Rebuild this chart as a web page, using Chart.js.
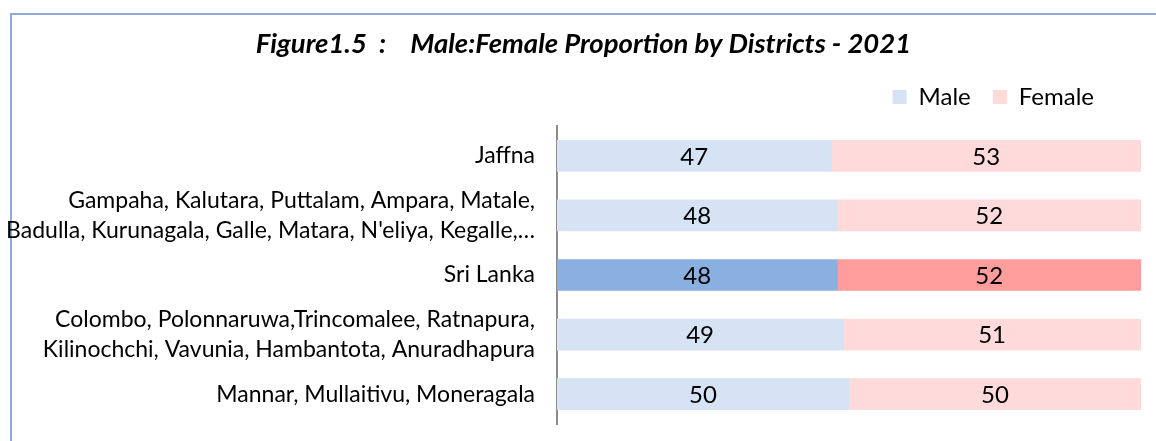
<!DOCTYPE html>
<html>
<head>
<meta charset="utf-8">
<script src="https://cdn.jsdelivr.net/npm/chart.js@4"></script>
<style>
  html, body { margin: 0; padding: 0; background: #fff; overflow: hidden; }
  #wrap { position: relative; width: 1156px; height: 441px; }
  #frame { position: absolute; left: 10px; top: 13px; width: 1200px; height: 500px;
           border-left: 2px solid #8eaadb; border-top: 2px solid #8eaadb; }
  canvas { position: absolute; left: 0; top: 0; }
</style>
</head>
<body>
<div id="wrap">
  <div id="frame"></div>
  <canvas id="chart" width="1156" height="441"></canvas>
</div>
<script>
const districts = [
  "Jaffna",
  ["Gampaha, Kalutara, Puttalam, Ampara, Matale,", "Badulla, Kurunagala, Galle, Matara, N'eliya, Kegalle,…"],
  "Sri Lanka",
  ["Colombo, Polonnaruwa,Trincomalee, Ratnapura,", "Kilinochchi, Vavunia, Hambantota, Anuradhapura"],
  "Mannar, Mullaitivu, Moneragala",
];
const male = [47, 48, 48, 49, 50];
const female = [53, 52, 52, 51, 50];
const highlight = 2; // Sri Lanka row

const FONT = "Lato";

function shade(light, dark) {
  return districts.map((d, i) => (i === highlight ? dark : light));
}

// value labels in the middle of each bar segment
const barLabels = {
  id: "barLabels",
  afterDatasetsDraw(chart) {
    const ctx = chart.ctx;
    ctx.save();
    ctx.font = "24px " + FONT;
    ctx.fillStyle = "#000";
    ctx.textAlign = "center";
    ctx.textBaseline = "middle";
    chart.data.datasets.forEach((ds, i) => {
      chart.getDatasetMeta(i).data.forEach((bar, j) => {
        const c = bar.getCenterPoint();
        ctx.fillText(ds.data[j], c.x, c.y + 1);
      });
    });
    ctx.restore();
  },
};

// move title and legend a little from where the layout puts them
const boxShift = {
  id: "boxShift",
  afterLayout(chart) {
    chart.titleBlock.left += 13;
    chart.titleBlock.right += 13;
    chart.legend.left -= 25;
    chart.legend.right -= 25;
    chart.legend.top -= 7;
    chart.legend.bottom -= 7;
  },
};

new Chart(document.getElementById("chart"), {
  type: "bar",
  data: {
    labels: districts,
    datasets: [
      {
        label: "Male",
        data: male,
        backgroundColor: shade("#d6e3f4", "#8aafe1"),
        borderWidth: 0,
      },
      {
        label: "Female",
        data: female,
        backgroundColor: shade("#ffdada", "#ff9c9c"),
        borderWidth: 0,
      },
    ],
  },
  options: {
    responsive: false,
    animation: false,
    indexAxis: "y",
    barThickness: 31,
    layout: {
      padding: { left: 0, right: 15, top: 0, bottom: 17 },
    },
    plugins: {
      title: {
        display: true,
        text: "Figure1.5  :    Male:Female Proportion by Districts - 2021",
        color: "#000",
        font: { family: FONT, size: 27.5, weight: "bold", style: "italic" },
        padding: { top: 28, bottom: 9 },
      },
      legend: {
        display: true,
        position: "top",
        align: "end",
        labels: {
          color: "#000",
          font: { family: FONT, size: 24 },
          boxWidth: 14,
          boxHeight: 14,
          padding: 22,
        },
      },
      tooltip: { enabled: false },
    },
    scales: {
      x: {
        stacked: true,
        display: false,
        min: 0,
        max: 100,
      },
      y: {
        stacked: true,
        afterFit(scale) {
          scale.width = 557;
          scale.paddingTop = 0;
          scale.paddingBottom = 0;
        },
        grid: { display: false, drawTicks: false },
        border: { display: true, color: "#8c8c8c", width: 2 },
        ticks: {
          color: "#000",
          padding: 22,
          autoSkip: false,
          font: { family: FONT, size: 23, lineHeight: 1.28 },
        },
      },
    },
  },
  plugins: [barLabels, boxShift],
});
</script>
</body>
</html>
